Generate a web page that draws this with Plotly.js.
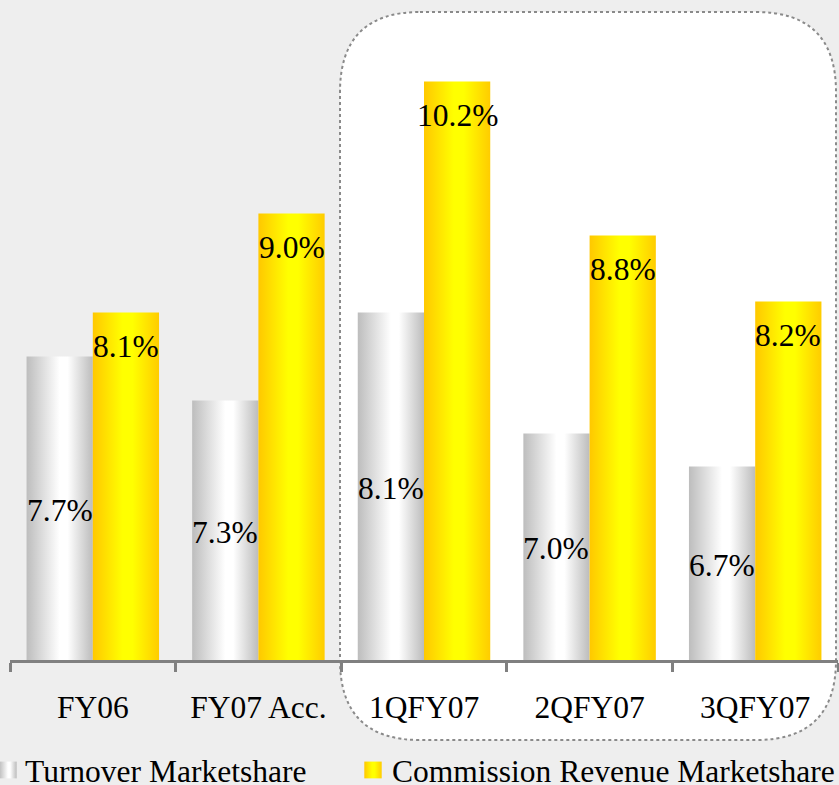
<!DOCTYPE html>
<html>
<head>
<meta charset="utf-8">
<script src="https://cdn.plot.ly/plotly-3.0.1.min.js"></script>
<style>html,body{margin:0;padding:0;background:#eeeeee;}#chart{width:839px;height:785px;}</style>
</head>
<body>
<div id="chart"></div>
<script>
// ---- data ----
const categories = ['FY06', 'FY07 Acc.', '1QFY07', '2QFY07', '3QFY07'];
const turnoverShare = [7.7, 7.3, 8.1, 7.0, 6.7];
const commissionShare = [8.1, 9.0, 10.2, 8.8, 8.2];
const seriesNames = ['Turnover Marketshare', 'Commission Revenue Marketshare'];

// ---- layout constants ----
const W = 839, H = 785;
const M = {l: 10, r: 1, t: 0, b: 125};
const bargap = 0.2;
const yRange = [4.94, 10.94];
const serif = 'Liberation Serif, Times New Roman, serif';
const fs = 31.5;
const plotW = W - M.l - M.r, plotH = H - M.t - M.b;
const px = v => (v - M.l) / plotW;
const py = v => (M.t + plotH - v) / plotH;

// rounded dotted frame (decoration)
const bx0 = 340, bx1 = 836, by0 = 12, by1 = 740, rr = 80;
const framePath = [
  `M${px(bx0 + rr)},${py(by0)}`,
  `L${px(bx1 - rr)},${py(by0)}`,
  `Q${px(bx1)},${py(by0)} ${px(bx1)},${py(by0 + rr)}`,
  `L${px(bx1)},${py(by1 - rr)}`,
  `Q${px(bx1)},${py(by1)} ${px(bx1 - rr)},${py(by1)}`,
  `L${px(bx0 + rr)},${py(by1)}`,
  `Q${px(bx0)},${py(by1)} ${px(bx0)},${py(by1 - rr)}`,
  `L${px(bx0)},${py(by0 + rr)}`,
  `Q${px(bx0)},${py(by0)} ${px(bx0 + rr)},${py(by0)}`,
  'Z'
].join(' ');

const fmt = v => v.toFixed(1) + '%';

const traces = [
  {
    type: 'bar', name: seriesNames[0], x: categories, y: turnoverShare,
    marker: {color: '#e6e6e6', line: {width: 0}}, hoverinfo: 'skip'
  },
  {
    type: 'bar', name: seriesNames[1], x: categories, y: commissionShare,
    marker: {color: '#ffe600', line: {width: 0}}, hoverinfo: 'skip'
  }
];

const off = (1 - bargap) / 4;
const labelFont = {family: serif, size: fs, color: '#000'};
const annotations = [
  ...turnoverShare.map((v, i) => ({
    x: i - off, y: (yRange[0] + v) / 2, xref: 'x', yref: 'y', text: fmt(v), showarrow: false,
    yanchor: 'middle', yshift: -2, font: labelFont
  })),
  ...commissionShare.map((v, i) => ({
    x: i + off, y: v, xref: 'x', yref: 'y', text: fmt(v), showarrow: false,
    yanchor: 'middle', yshift: -34, font: labelFont
  }))
];

const layout = {
  width: W, height: H,
  margin: M,
  paper_bgcolor: '#eeeeee',
  plot_bgcolor: 'rgba(0,0,0,0)',
  barmode: 'group', bargap: bargap, bargroupgap: 0,
  showlegend: true,
  legend: {
    orientation: 'h', xref: 'container', yref: 'container',
    x: 0, xanchor: 'left', y: (H - 770) / H, yanchor: 'middle',
    bgcolor: 'rgba(0,0,0,0)', font: labelFont,
    entrywidth: 322, entrywidthmode: 'pixels', itemwidth: 30
  },
  xaxis: {
    type: 'category', range: [-0.5, 4.5], fixedrange: true,
    showline: true, linecolor: '#808080', linewidth: 3,
    ticks: 'outside', tickson: 'boundaries', ticklen: 9, tickwidth: 3, tickcolor: '#808080',
    tickfont: labelFont, ticklabelstandoff: 17,
    showgrid: false, zeroline: false
  },
  yaxis: {
    range: yRange, visible: false, showgrid: false, zeroline: false, fixedrange: true
  },
  shapes: [{
    type: 'path', xref: 'paper', yref: 'paper', layer: 'below',
    path: framePath, fillcolor: '#ffffff',
    line: {color: '#8a8a8a', width: 2, dash: 'dot'}
  }],
  annotations: annotations
};

const gd = document.getElementById('chart');
Plotly.newPlot(gd, traces, layout, {staticPlot: true, displayModeBar: false}).then(() => {
  const NS = 'http://www.w3.org/2000/svg';
  const svg = gd.querySelector('.main-svg');
  let defs = svg.querySelector('defs');
  if (!defs) { defs = document.createElementNS(NS, 'defs'); svg.insertBefore(defs, svg.firstChild); }
  const grads = [
    {id: 'gGray', stops: [[0, '#bdbdbd'], [0.5, '#ffffff'], [0.62, '#ffffff'], [1, '#bcbcbc']]},
    {id: 'gYellow', stops: [[0, '#ffc800'], [0.45, '#ffff00'], [0.6, '#ffff00'], [1, '#ffcc00']]}
  ];
  grads.forEach(g => {
    const lg = document.createElementNS(NS, 'linearGradient');
    lg.setAttribute('id', g.id);
    lg.setAttribute('x1', '0'); lg.setAttribute('x2', '1');
    lg.setAttribute('y1', '0'); lg.setAttribute('y2', '0');
    g.stops.forEach(s => {
      const st = document.createElementNS(NS, 'stop');
      st.setAttribute('offset', s[0]);
      st.setAttribute('stop-color', s[1]);
      lg.appendChild(st);
    });
    defs.appendChild(lg);
  });
  gd.querySelectorAll('.trace.bars').forEach((t, i) => {
    t.querySelectorAll('.point path').forEach(p => { p.style.fill = `url(#${grads[i].id})`; });
  });
  const iconX = [23, 21];
  gd.querySelectorAll('.legend .traces').forEach((t, i) => {
    t.querySelectorAll('.legendpoints path').forEach(p => {
      p.style.fill = `url(#${grads[i].id})`;
      p.setAttribute('transform', `translate(${iconX[i]},0) scale(1.45,1.4)`);
    });
  });
  // shift legend slightly left (like the original) and let the long entry show fully
  const leg = gd.querySelector('.legend');
  if (leg) {
    const m = /translate\(([-\d.]+)[ ,]+([-\d.]+)\)/.exec(leg.getAttribute('transform') || '');
    if (m) leg.setAttribute('transform', `translate(${parseFloat(m[1]) - 15},${m[2]})`);
    leg.querySelectorAll('[clip-path]').forEach(el => el.removeAttribute('clip-path'));
    leg.querySelectorAll('.scrollbox').forEach(el => { el.style.clipPath = 'none'; });
  }
});
</script>
</body>
</html>
